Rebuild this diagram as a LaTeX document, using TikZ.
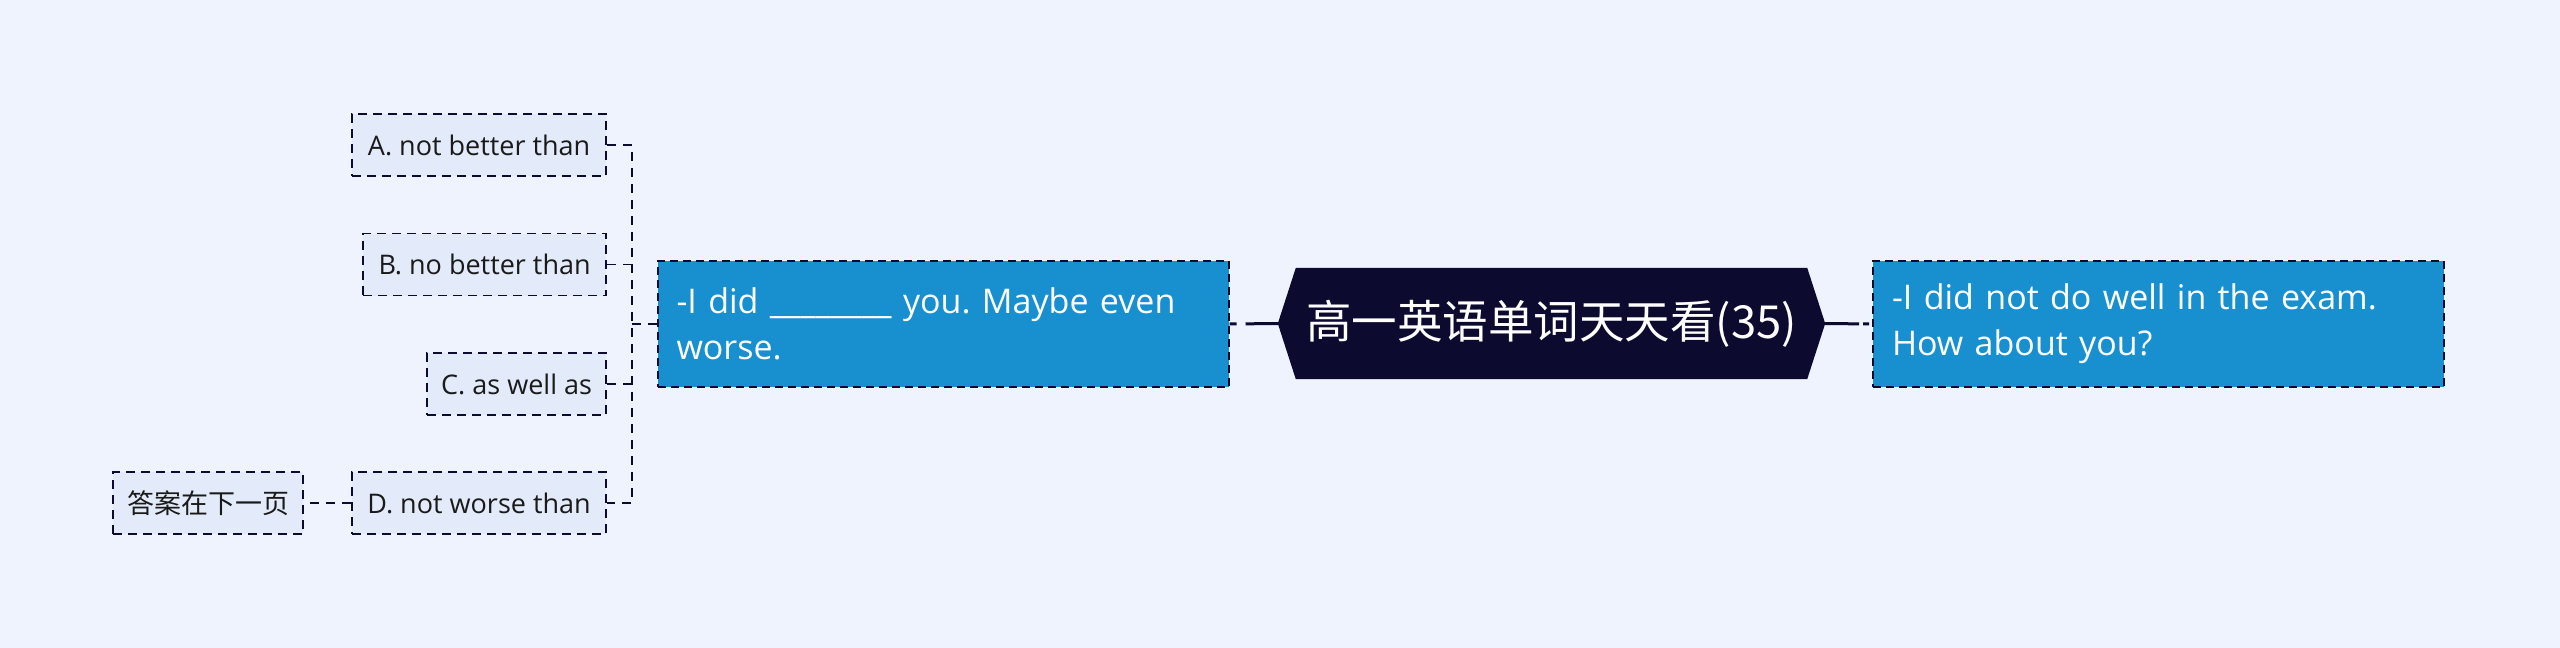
\documentclass[tikz,border=0pt]{standalone}
\usepackage{fontspec}
\setmainfont{Open Sans}
\newfontfamily\cjk{Noto Sans CJK SC}
\definecolor{bgc}{HTML}{EEF3FE}
\definecolor{navy}{HTML}{0C0A2E}
\definecolor{boxblue}{HTML}{1890D0}
\definecolor{childfill}{HTML}{E3EBFA}
\definecolor{ink}{HTML}{1A1A1A}
\pgfdeclarelayer{back}
\pgfsetlayers{back,main}
\frenchspacing
\begin{document}
\begin{tikzpicture}[x=1pt,y=-1pt,
  mainbox/.style={fill=boxblue, draw=navy, line width=2pt, dash pattern=on 8pt off 5pt, text=white, minimum height=126pt, text width=533pt, inner xsep=19pt, inner ysep=0pt, align=left, font=\fontsize{34}{46}\selectfont},
  child/.style={fill=childfill, draw=navy, line width=1.8pt, dash pattern=on 9pt off 6pt, text=ink, minimum height=62pt, inner xsep=0pt, inner ysep=0pt, font=\fontsize{27}{30}\selectfont},
  conn/.style={draw=navy, line width=1.8pt, dash pattern=on 9pt off 7pt},
  trunk/.style={draw=navy, line width=3pt}]
\begin{pgfonlayer}{back}
\fill[bgc] (0,0) rectangle (2560,648);
\end{pgfonlayer}
\useasboundingbox (0,0) rectangle (2560,648);

\node[minimum width=547pt, minimum height=111pt, inner sep=0pt, text=white, font=\cjk\fontsize{45.5}{50}\selectfont] (H) at (1551.5,323.5) {高一英语单词天天看(35)};
\begin{pgfonlayer}{back}
\fill[navy] (H.west) -- ([xshift=18pt]H.north west) -- ([xshift=-18pt]H.north east) -- (H.east) -- ([xshift=-18pt]H.south east) -- ([xshift=18pt]H.south west) -- cycle;
\end{pgfonlayer}

\node[mainbox] (R) at (2158.5,324) {-I did not do well in the exam.\\How about you?};
\node[mainbox] (L) at (943,324) {-I did \_\_\_\_\_\_\_\_ you. Maybe even\\worse.};

\node[child, minimum width=254pt, anchor=east] (A) at (607,145) {A. not better than};
\node[child, minimum width=243pt, anchor=east] (B) at (607,264.5) {B. no better than};
\node[child, minimum width=179pt, anchor=east] (C) at (607,384) {C. as well as};
\node[child, minimum width=254pt, anchor=east] (D) at (607,503) {D. not worse than};
\node[child, minimum width=190pt, anchor=east, font=\cjk\fontsize{27}{30}\selectfont] (E) at (304,503) {答案在下一页};

\coordinate (J) at (632,324);
\draw[conn] (L.west) -- (J);
\draw[conn] (A.east) -| (J) |- (D.east);
\draw[conn] (B.east) -- (B.east -| J);
\draw[conn] (C.east) -- (C.east -| J);
\draw[conn] (D.west) -- (E.east);

\draw[trunk, dash pattern=on 34pt off 4pt on 6pt off 6pt] (H.east) -- (R.west);
\draw[trunk, dash pattern=on 7pt off 9pt on 40pt] (L.east) -- (H.west);
\end{tikzpicture}
\end{document}
